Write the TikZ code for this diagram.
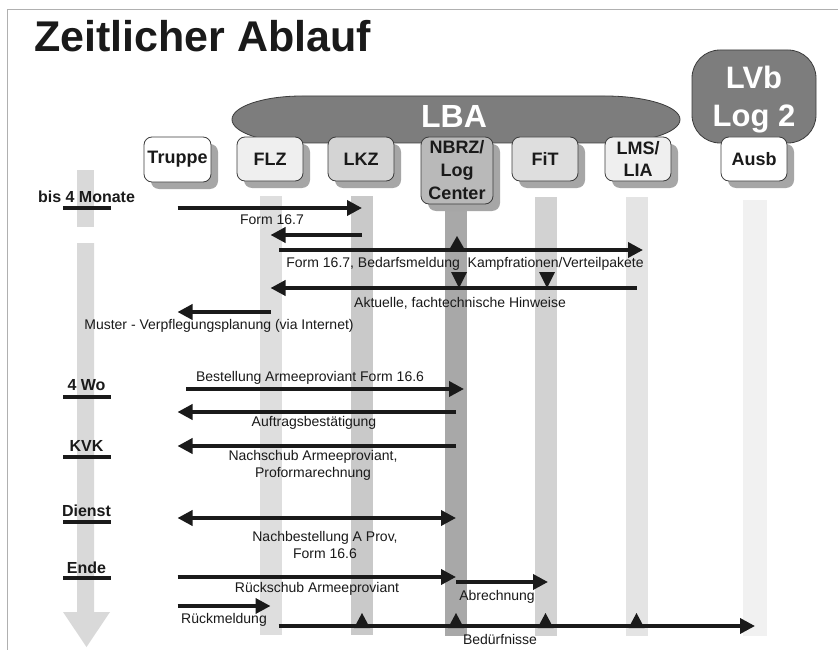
\documentclass[tikz,border=0pt]{standalone}
\usepackage{fontspec}
\setmainfont{Liberation Sans}
\usetikzlibrary{arrows.meta,shadows,calc}
\definecolor{ink}{HTML}{1A1A1A}
\definecolor{edge}{HTML}{3C3C3C}
\definecolor{shade}{HTML}{A6A6A6}
\definecolor{lbafill}{HTML}{7D7D7D}
\definecolor{framec}{HTML}{B0B0B0}
\definecolor{tlc}{HTML}{D9D9D9}
\definecolor{flzl}{HTML}{DEDEDE}
\definecolor{lkzl}{HTML}{C9C9C9}
\definecolor{nbrzl}{HTML}{A8A8A8}
\definecolor{fitl}{HTML}{D2D2D2}
\definecolor{lmsl}{HTML}{E4E4E4}
\definecolor{ausbl}{HTML}{F1F1F1}
\definecolor{flzc}{HTML}{EFEFEF}
\definecolor{lkzc}{HTML}{D4D4D4}
\definecolor{nbrzc}{HTML}{B9B9B9}
\definecolor{fitc}{HTML}{DEDEDE}
\definecolor{lmsc}{HTML}{EFEFEF}
\begin{document}
\begin{tikzpicture}[x=1pt,y=-1pt,
  box/.style={draw=edge, line width=0.8pt, rounded corners=8pt, inner sep=0pt,
    minimum width=66pt, minimum height=44pt, font=\fontsize{18}{22}\selectfont\bfseries,
    align=center, text=ink,
    drop shadow={shadow xshift=7pt, shadow yshift=-7pt, fill=shade, opacity=1, draw=none}},
  lane/.style={inner sep=0pt, minimum width=22pt, draw=none},
  arr/.style={draw=ink, line width=3.6pt, -{Triangle[length=15pt,width=15pt]}},
  arrb/.style={draw=ink, line width=3.6pt, {Triangle[length=15pt,width=15pt]}-{Triangle[length=15pt,width=15pt]}},
  lbl/.style={font=\fontsize{14}{16.5}\selectfont, text=ink, inner sep=0pt, align=center},
  tlbl/.style={font=\fontsize{16}{18}\selectfont\bfseries, text=ink, inner sep=0pt},
  bar/.style={draw=ink, line width=4pt},
  tri/.style={fill=ink},
]
\useasboundingbox (0,0) rectangle (838,650);
\fill[white] (0,0) rectangle (838,650);
% frame
\draw[framec, line width=1pt] (7,650) -- (7,10) -- (838,10);
% title
\node[anchor=base west, inner sep=0pt, font=\fontsize{43}{50}\selectfont\bfseries, text=ink] (title) at (34,52) {Zeitlicher Ablauf};
% time line
\fill[tlc] (77,170) rectangle (94,227);
\fill[tlc] (77,243) -- (94,243) -- (94,612) -- (110,612) -- (86.5,647) -- (63,612) -- (77,612) -- cycle;
% lanes
\node[lane, fill=flzl, minimum height=439pt] (flzL) at (270.5,415.5) {};
\node[lane, fill=lkzl, minimum height=439pt] (lkzL) at (362,415.5) {};
\node[lane, fill=nbrzl, minimum height=436pt] (nbrzL) at (456,418) {};
\node[lane, fill=fitl, minimum height=439pt] (fitL) at (545.5,416.5) {};
\node[lane, fill=lmsl, minimum height=439pt] (lmsL) at (636.5,416.5) {};
\node[lane, fill=ausbl, minimum height=436pt, minimum width=24pt] (ausbL) at (755,418) {};
% LBA
\filldraw[fill=lbafill, draw=edge, line width=0.8pt] (232,119.5)
  arc[start angle=180, end angle=270, x radius=70, y radius=23.5] -- (605,96)
  arc[start angle=270, end angle=360, x radius=75, y radius=23.5]
  arc[start angle=0, end angle=90, x radius=75, y radius=23.5] -- (302,143)
  arc[start angle=90, end angle=180, x radius=70, y radius=23.5] -- cycle;
\node[anchor=base, inner sep=0pt, font=\fontsize{32}{36}\selectfont\bfseries, text=white] (lba) at (454,128) {LBA};
% LVb
\node[draw=edge, fill=lbafill, line width=0.8pt, rounded corners=28pt, minimum width=124pt, minimum height=93pt, inner sep=0pt] (lvbbox) at (754,96.5) {};
\node[align=center, inner sep=0pt, font=\fontsize{31}{38}\selectfont\bfseries, text=white] (lvb) at (754,100) {LVb\\Log 2};
% boxes
\node[box, fill=white, minimum width=67pt, minimum height=45pt] (truppe) at (177.5,159.5) {Truppe};
\node[box, fill=flzc] (flz) at (270,159) {FLZ};
\node[box, fill=lkzc] (lkz) at (361,159) {LKZ};
\node[box, fill=nbrzc, minimum width=72pt, minimum height=67pt, font=\fontsize{18}{23}\selectfont\bfseries] (nbrz) at (457,170.5) {NBRZ/\\Log\\Center};
\node[box, fill=fitc] (fit) at (545,159) {FiT};
\node[box, fill=lmsc] (lms) at (638,159) {LMS/\\LIA};
\node[box, fill=white] (ausb) at (754,159) {Ausb};
% time labels
\node[tlbl] (t1) at (86.5,197) {bis 4 Monate};
\draw[bar] (63,208) -- (111,208);
\node[tlbl] (t2) at (86.5,385) {4 Wo};
\draw[bar] (63,397) -- (111,397);
\node[tlbl] (t3) at (86.5,446) {KVK};
\draw[bar] (63,457) -- (111,457);
\node[tlbl] (t4) at (86.5,511) {Dienst};
\draw[bar] (63,522) -- (111,522);
\node[tlbl] (t5) at (86.5,568) {Ende};
\draw[bar] (63,578) -- (111,578);
% rows
\coordinate (r1) at (0,208);
\coordinate (r2) at (0,235);
\coordinate (r3) at (0,250);
\coordinate (r4) at (0,288);
\coordinate (r5) at (0,312);
\coordinate (r6) at (0,389);
\coordinate (r7) at (0,412);
\coordinate (r8) at (0,446);
\coordinate (r9) at (0,518);
\coordinate (r10) at (0,577);
\coordinate (r11) at (0,582);
\coordinate (r12) at (0,606);
\coordinate (r13) at (0,626);
% connectors
\draw[arr] (truppe |- r1) -- (lkzL |- r1);
\draw[arr] (lkzL |- r2) -- (flzL |- r2);
\draw[arr] ($(flzL |- r3)+(8.5,0)$) -- ($(lmsL |- r3)+(6.5,0)$);
\fill[tri] ($(nbrzL |- r3)+(1,0)$) ++(-8,0) -- ++(16,0) -- ++(-8,-14) -- cycle;
\draw[arr] (lmsL |- r4) -- (flzL |- r4);
\fill[tri] ($(nbrzL |- r4)+(3,-16)$) ++(-8,0) -- ++(16,0) -- ++(-8,16) -- cycle;
\fill[tri] ($(fitL |- r4)+(1.5,-16)$) ++(-8,0) -- ++(16,0) -- ++(-8,16) -- cycle;
\draw[arr] (flzL |- r5) -- (truppe |- r5);
\draw[arr] ($(truppe |- r6)+(8.5,0)$) -- ($(nbrzL |- r6)+(8,0)$);
\draw[arr] (nbrzL |- r7) -- (truppe |- r7);
\draw[arr] (nbrzL |- r8) -- (truppe |- r8);
\draw[arrb] (truppe |- r9) -- (nbrzL |- r9);
\draw[arr] (truppe |- r10) -- (nbrzL |- r10);
\draw[arr] (nbrzL |- r11) -- ($(fitL |- r11)+(2.5,0)$);
\draw[arr] (truppe |- r12) -- (flzL |- r12);
\draw[arr] ($(flzL |- r13)+(8,0)$) -- (ausbL |- r13);
\foreach \l in {lkzL,nbrzL,fitL,lmsL}
  \fill[tri] ($(\l |- r13)+(0,2)$) ++(-8,0) -- ++(16,0) -- ++(-8,-15) -- cycle;
% labels
\node[lbl] (l1) at (272,220) {Form 16.7};
\node[lbl] (l3) at (465,264) {Form 16.7, Bedarfsmeldung\ \ Kampfrationen/Verteilpakete};
\node[lbl] (l4) at (460,303) {Aktuelle, fachtechnische Hinweise};
\node[lbl] (l5) at (219,326) {Muster - Verpflegungsplanung (via Internet)};
\node[lbl] (l6) at (310,378) {Bestellung Armeeproviant Form 16.6};
\node[lbl] (l7) at (314,423) {Auftragsbestätigung};
\node[lbl] (l8) at (313,465.5) {Nachschub Armeeproviant,\\Proformarechnung};
\node[lbl] (l9) at (325,545) {Nachbestellung A Prov,\\Form 16.6};
\node[lbl] (l10) at (317,589) {Rückschub Armeeproviant};
\node[lbl] (l11) at (497,597) {Abrechnung};
\node[lbl] (l12) at (224,620) {Rückmeldung};
\node[lbl] (l13) at (500,639) {Bedürfnisse};
\end{tikzpicture}
\end{document}
